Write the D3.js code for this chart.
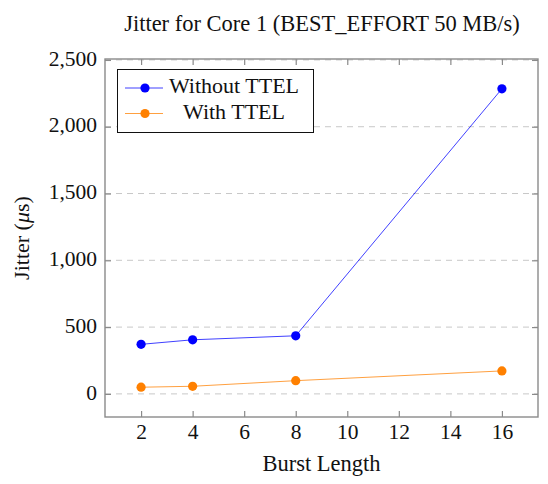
<!DOCTYPE html>
<html>
<head>
<meta charset="utf-8">
<script src="https://cdn.jsdelivr.net/npm/d3@7"></script>
<style>
  html, body { margin: 0; padding: 0; background: #fff; }
  svg { display: block; font-family: "Liberation Serif", "Times New Roman", serif; }
</style>
</head>
<body>
<svg id="chart" width="548" height="484"></svg>
<script>
// Burst lengths on the x axis
const burstLengths = [2, 4, 8, 16];
// Jitter in microseconds
const withoutTTEL = [371, 405, 435, 2284];
const withTTEL = [50, 57, 99, 172];
const seriesNames = ["Without TTEL", "With TTEL"];
const seriesColors = ["#0000ff", "#ff8000"];
const xTicks = [2, 4, 6, 8, 10, 12, 14, 16];
const yTicks = [0, 500, 1000, 1500, 2000, 2500];

const svg = d3.select("#chart");
const margin = { left: 105, right: 10, top: 59, bottom: 67 };
const W = 548, H = 484;

const x = d3.scaleLinear().domain([0.6, 17.4]).range([margin.left, W - margin.right]);
const y = d3.scaleLinear().domain([-173, 2507]).range([H - margin.bottom, margin.top]);

const frameColor = "#8a8a8a";
const tickLen = 6;

// horizontal dashed grid
svg.append("g").selectAll("line").data(yTicks).join("line")
  .attr("x1", x.range()[0]).attr("x2", x.range()[1])
  .attr("y1", d => y(d)).attr("y2", d => y(d))
  .attr("stroke", "#c8c8c8").attr("stroke-width", 1)
  .attr("stroke-dasharray", "6,5");

// axes with inward ticks on all four sides
const fmt = d3.format(",");
const axisStyle = g => {
  g.select(".domain").remove();
  g.selectAll(".tick line").attr("stroke", frameColor).attr("stroke-width", 1.2);
  g.selectAll(".tick text").attr("fill", "#111").style("font-size", "21.5px")
    .style("font-family", "'Liberation Serif', serif");
};
svg.append("g").attr("transform", `translate(0,${y.range()[0]})`)
  .call(d3.axisBottom(x).tickValues(xTicks).tickSizeInner(-tickLen).tickSizeOuter(0).tickPadding(7))
  .call(axisStyle);
svg.append("g").attr("transform", `translate(0,${y.range()[1]})`)
  .call(d3.axisTop(x).tickValues(xTicks).tickSizeInner(-tickLen).tickSizeOuter(0).tickFormat(""))
  .call(axisStyle);
svg.append("g").attr("transform", `translate(${x.range()[0]},0)`)
  .call(d3.axisLeft(y).tickValues(yTicks).tickFormat(fmt).tickSizeInner(-tickLen).tickSizeOuter(0).tickPadding(8))
  .call(axisStyle)
  .call(g => g.selectAll(".tick text").attr("dy", "0.24em"));
svg.append("g").attr("transform", `translate(${x.range()[1]},0)`)
  .call(d3.axisRight(y).tickValues(yTicks).tickSizeInner(-tickLen).tickSizeOuter(0).tickFormat(""))
  .call(axisStyle);

// frame
svg.append("rect")
  .attr("x", x.range()[0]).attr("y", y.range()[1])
  .attr("width", x.range()[1] - x.range()[0]).attr("height", y.range()[0] - y.range()[1])
  .attr("fill", "none").attr("stroke", frameColor).attr("stroke-width", 1.4);

// series
const series = [withoutTTEL, withTTEL];
const line = d3.line().x((d, i) => x(burstLengths[i])).y(d => y(d));
series.forEach((vals, s) => {
  svg.append("path").datum(vals).attr("d", line)
    .attr("fill", "none").attr("stroke", seriesColors[s]).attr("stroke-width", 1)
    .attr("stroke-opacity", 0.75);
  svg.append("g").selectAll("circle").data(vals).join("circle")
    .attr("cx", (d, i) => x(burstLengths[i])).attr("cy", d => y(d))
    .attr("r", 4.6).attr("fill", seriesColors[s]);
});

// legend
const lg = svg.append("g");
lg.append("rect").attr("x", 117.5).attr("y", 69.5).attr("width", 196).attr("height", 63)
  .attr("fill", "#fff").attr("stroke", "#111").attr("stroke-width", 1);
seriesNames.forEach((name, s) => {
  const cy = 88 + s * 25.5;
  lg.append("line").attr("x1", 125).attr("x2", 163).attr("y1", cy).attr("y2", cy)
    .attr("stroke", seriesColors[s]).attr("stroke-width", 1).attr("stroke-opacity", 0.75);
  lg.append("circle").attr("cx", 145).attr("cy", cy).attr("r", 4.6).attr("fill", seriesColors[s]);
  lg.append("text").attr("x", 234).attr("y", cy + 5).attr("text-anchor", "middle")
    .style("font-size", "22px").attr("fill", "#111").text(name);
});

// title
svg.append("text").attr("x", 322).attr("y", 31).attr("text-anchor", "middle")
  .style("font-size", "22.5px").attr("fill", "#111")
  .text("Jitter for Core 1 (BEST_EFFORT 50 MB/s)");

// axis labels
svg.append("text").attr("x", (x.range()[0] + x.range()[1]) / 2).attr("y", 471)
  .attr("text-anchor", "middle").style("font-size", "22.5px").attr("fill", "#111")
  .text("Burst Length");
const yl = svg.append("text")
  .attr("transform", `translate(29,${(y.range()[0] + y.range()[1]) / 2}) rotate(-90)`)
  .attr("text-anchor", "middle").style("font-size", "22px").attr("fill", "#111");
yl.append("tspan").text("Jitter (");
yl.append("tspan").style("font-style", "italic").text("μ");
yl.append("tspan").text("s)");
</script>
</body>
</html>
